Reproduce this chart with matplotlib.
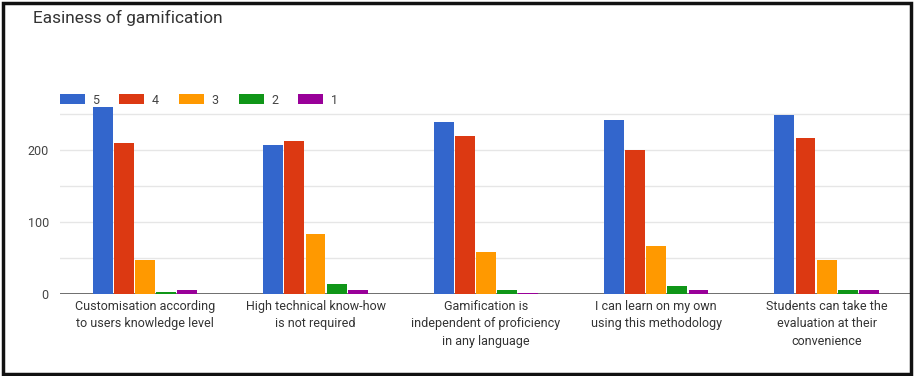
import matplotlib
matplotlib.use("Agg")
from matplotlib import pyplot as plt
from matplotlib.patches import Rectangle
import numpy as np

plt.rcParams['font.family'] = ['Roboto', 'DejaVu Sans']

categories = [
    "Customisation according\nto users knowledge level",
    "High technical know-how\nis not required",
    "Gamification is\nindependent of proficiency\nin any language",
    "I can learn on my own\nusing this methodology",
    "Students can take the\nevaluation at their\nconvenience",
]
series_names = ["5", "4", "3", "2", "1"]
vals_5 = [259, 207, 239, 242, 249]
vals_4 = [210, 213, 219, 200, 216]
vals_3 = [47, 84, 58, 66, 47]
vals_2 = [3, 14, 6, 11, 6]
vals_1 = [6, 6, 2, 6, 6]
colors = ["#3366cc", "#dc3912", "#ff9900", "#109618", "#990099"]

fig = plt.figure(figsize=(9.14, 3.76), dpi=100)
ax = fig.add_axes([0.0656, 0.218, 0.932, 0.502])

x = np.arange(len(categories))
width = 0.124
series = [vals_5, vals_4, vals_3, vals_2, vals_1]
for i, vals in enumerate(series):
    ax.bar(x + (i - 2) * width, vals, width * 0.94, color=colors[i],
           label=series_names[i], zorder=3, clip_on=False)

ax.set_xlim(-0.5, len(categories) - 0.5)
ax.set_ylim(0, 262)
for g in [50, 100, 150, 200, 250]:
    ax.axhline(g, color="#e6e6e6", lw=1, zorder=1)
ax.axhline(0, color="#555555", lw=1.2, zorder=2)

ax.set_yticks([0, 100, 200])
ax.set_yticklabels(["0", "100", "200"], color="#444444", fontsize=9)
ax.set_xticks(x)
ax.set_xticklabels(categories, color="#333333", fontsize=9, linespacing=1.45)
ax.tick_params(length=0, axis="both")
ax.tick_params(axis="x", pad=4)
ax.tick_params(axis="y", pad=8)
for s in ax.spines.values():
    s.set_visible(False)

fig.text(0.036, 0.952, "Easiness of gamification", fontsize=12.4, color="#333333",
         va="center", ha="left")

fig.legend(loc="center left", bbox_to_anchor=(0.0656, 0.734), ncol=5,
           frameon=False, fontsize=9, handlelength=2.0, handleheight=0.8,
           handletextpad=0.6, columnspacing=1.6, borderpad=0, borderaxespad=0,
           labelcolor="#444444")

fig.patches.append(Rectangle((0.003, 0.006), 0.994, 0.986, transform=fig.transFigure,
                             fill=False, edgecolor="#111111", lw=2.5))

plt.savefig("out.png", dpi=100)
plt.close()
